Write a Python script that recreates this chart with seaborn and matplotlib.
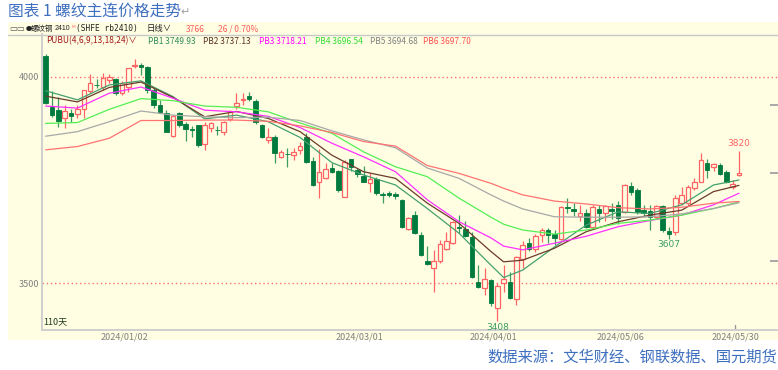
import matplotlib
matplotlib.use("Agg")
import matplotlib.pyplot as plt
import numpy as np
import pandas as pd
import seaborn as sns
from matplotlib.patches import Rectangle
from matplotlib.lines import Line2D

sns.set_style("white")
plt.rcParams["font.family"] = ["Noto Sans CJK SC", "DejaVu Sans"]

# daily candles, rb2410 continuous, 2023/12/13 .. 2024/05/30 (110 bars)
opens = [4050, 3927, 3919, 3899, 3913, 3910, 3921, 3966, 3981, 3974,
         3992, 3994, 3961, 3975, 4026, 4028, 4024, 3969, 3931, 3913,
         3856, 3911, 3886, 3874, 3883, 3837, 3875, 3872, 3867, 3897,
         3928, 3943, 3954, 3940, 3883, 3847, 3855, 3806, 3814, 3810,
         3823, 3853, 3797, 3746, 3756, 3778, 3772, 3710, 3800, 3774,
         3760, 3742, 3752, 3716, 3719, 3716, 3702, 3631, 3665, 3617,
         3553, 3536, 3553, 3583, 3597, 3637, 3631, 3613, 3504, 3488,
         3508, 3440, 3500, 3502, 3461, 3558, 3597, 3582, 3617, 3629,
         3619, 3607, 3685, 3680, 3663, 3671, 3636, 3681, 3671, 3681,
         3690, 3673, 3735, 3726, 3677, 3676, 3660, 3686, 3626, 3625,
         3694, 3694, 3730, 3746, 3790, 3781, 3786, 3769, 3734, 3762]
highs = [4055, 3965, 3952, 3931, 3923, 3931, 3968, 4006, 3994, 4008,
         4006, 3996, 3990, 4022, 4044, 4032, 4026, 3975, 3944, 3920,
         3908, 3914, 3890, 3881, 3883, 3891, 3890, 3880, 3893, 3920,
         3960, 3960, 3963, 3945, 3885, 3875, 3858, 3822, 3827, 3827,
         3843, 3864, 3805, 3824, 3790, 3790, 3775, 3798, 3802, 3780,
         3785, 3768, 3758, 3722, 3724, 3722, 3705, 3660, 3675, 3625,
         3590, 3580, 3605, 3625, 3651, 3665, 3650, 3625, 3544, 3536,
         3510, 3500, 3544, 3528, 3565, 3603, 3610, 3620, 3634, 3634,
         3629, 3686, 3706, 3695, 3690, 3680, 3690, 3690, 3690, 3695,
         3700, 3741, 3746, 3730, 3690, 3690, 3690, 3690, 3636, 3714,
         3733, 3739, 3754, 3815, 3802, 3792, 3790, 3775, 3750, 3820]
lows = [3935, 3902, 3879, 3877, 3891, 3899, 3901, 3960, 3972, 3969,
        3984, 3955, 3955, 3962, 4020, 4004, 3960, 3925, 3912, 3865,
        3854, 3878, 3845, 3854, 3831, 3823, 3865, 3858, 3859, 3894,
        3923, 3932, 3942, 3886, 3851, 3839, 3790, 3803, 3781, 3799,
        3813, 3792, 3736, 3706, 3752, 3766, 3722, 3708, 3771, 3758,
        3744, 3722, 3714, 3694, 3709, 3705, 3635, 3628, 3620, 3565,
        3545, 3480, 3550, 3580, 3594, 3621, 3612, 3513, 3488, 3472,
        3445, 3408, 3480, 3462, 3447, 3538, 3578, 3576, 3599, 3597,
        3592, 3605, 3670, 3662, 3650, 3634, 3634, 3648, 3650, 3655,
        3643, 3670, 3714, 3667, 3660, 3628, 3655, 3625, 3607, 3616,
        3690, 3690, 3725, 3745, 3754, 3773, 3762, 3742, 3728, 3760]
closes = [3937, 3907, 3894, 3918, 3906, 3921, 3968, 3985, 3979, 3996,
          4000, 3960, 3984, 4020, 4028, 4023, 3968, 3931, 3915, 3867,
          3905, 3883, 3873, 3872, 3835, 3883, 3887, 3870, 3891, 3915,
          3937, 3945, 3946, 3891, 3853, 3855, 3816, 3818, 3812, 3818,
          3832, 3794, 3738, 3770, 3776, 3770, 3726, 3794, 3781, 3764,
          3746, 3752, 3718, 3714, 3714, 3711, 3637, 3657, 3622, 3568,
          3547, 3553, 3595, 3603, 3649, 3635, 3615, 3515, 3490, 3510,
          3452, 3493, 3510, 3464, 3563, 3592, 3583, 3615, 3629, 3617,
          3610, 3684, 3683, 3675, 3671, 3637, 3684, 3670, 3687, 3676,
          3657, 3738, 3722, 3673, 3669, 3660, 3686, 3628, 3620, 3706,
          3714, 3734, 3746, 3798, 3774, 3789, 3764, 3746, 3740, 3766]

tick_bars = [13, 50, 71, 91, 109]
tick_labels = ["2024/01/02", "2024/03/01", "2024/04/01", "2024/05/06", "2024/05/30"]

# PUBU waterfall lines at these bars
ma_bars = [0, 5, 10, 15, 20, 25, 30, 35, 40, 45, 50, 55, 60, 65, 70, 72, 75, 80, 85, 90, 95, 100, 105, 109]
pb1 = [3966, 3944, 3980, 3990, 3952, 3898, 3907, 3891, 3853, 3792, 3762, 3738, 3681, 3621, 3544, 3514,
       3532, 3588, 3641, 3673, 3669, 3690, 3738, 3750]
pb2 = [3953, 3939, 3974, 3987, 3950, 3903, 3916, 3899, 3867, 3810, 3770, 3754, 3694, 3645, 3577, 3552,
       3556, 3585, 3625, 3649, 3665, 3677, 3722, 3737]
pb3 = [3929, 3924, 3960, 3975, 3948, 3919, 3915, 3904, 3877, 3839, 3806, 3770, 3702, 3649, 3610, 3590,
       3581, 3597, 3614, 3637, 3652, 3665, 3690, 3718]
pb4 = [3887, 3889, 3921, 3947, 3942, 3929, 3926, 3915, 3888, 3863, 3818, 3782, 3758, 3706, 3660, 3643,
       3629, 3619, 3629, 3645, 3653, 3665, 3681, 3697]
pb5 = [3856, 3867, 3891, 3917, 3907, 3903, 3901, 3902, 3894, 3869, 3847, 3828, 3779, 3754, 3714, 3699,
       3680, 3661, 3660, 3660, 3661, 3668, 3681, 3695]
pb6 = [3823, 3831, 3851, 3894, 3894, 3895, 3895, 3892, 3881, 3865, 3843, 3832, 3785, 3766, 3742, 3730,
       3714, 3699, 3692, 3683, 3680, 3684, 3694, 3698]
pb_names = ["PB1", "PB2", "PB3", "PB4", "PB5", "PB6"]
pb_last = ["3749.93", "3737.13", "3718.21", "3696.54", "3694.68", "3697.70"]

BG = "#fffee3"
RED = "#ff6464"
GREEN = "#007a3d"
WICK_G = "#3c9c62"
BLUE = "#3f6fbf"
pb_colors = {"PB1": "#45a06e", "PB2": "#6b3b2b", "PB3": "#ff30ff",
             "PB4": "#55ee55", "PB5": "#a8a8a8", "PB6": "#ff7272"}
pb_text = {"PB1": "#2e8b57", "PB2": "#5a3020", "PB3": "#ff00ff",
           "PB4": "#33dd33", "PB5": "#808080", "PB6": "#ff5050"}

W, H = 778, 370
fig = plt.figure(figsize=(W / 100, H / 100), dpi=100)
fig.patch.set_facecolor("white")


def fx(x):
    return x / W


def fy(y):
    return 1 - y / H


fig.patches.append(Rectangle((fx(8), fy(340)), (W - 8) / W, 318 / H,
                             transform=fig.transFigure, facecolor=BG, edgecolor="none", zorder=-2))
fig.lines.append(Line2D([fx(8), fx(778)], [fy(34.5), fy(34.5)], transform=fig.transFigure,
                        color="#c8c8c8", lw=1, zorder=-1))

ax = fig.add_axes([fx(42), fy(330), (778 - 42) / W, (330 - 34) / H])
ax.set_facecolor("none")


def price_at(ypix):
    return 4000 - (ypix - 76.7) * 2.42


ax.set_xlim(-0.57, 115.13)
ax.set_ylim(price_at(330), price_at(34))

df = pd.DataFrame({"o": opens, "h": highs, "l": lows, "c": closes})
df["i"] = np.arange(len(df))
up = df["c"] >= df["o"]
df["bottom"] = df[["o", "c"]].min(axis=1)
df["height"] = (df["c"] - df["o"]).abs().clip(lower=1.2)

ax.vlines(df.loc[up, "i"], df.loc[up, "l"], df.loc[up, "h"], color=RED, lw=0.9, zorder=2)
ax.vlines(df.loc[~up, "i"], df.loc[~up, "l"], df.loc[~up, "h"], color=WICK_G, lw=0.9, zorder=2)
ax.bar(df.loc[up, "i"], df.loc[up, "height"], bottom=df.loc[up, "bottom"], width=0.72,
       facecolor=BG, edgecolor=RED, lw=0.9, zorder=3)
ax.bar(df.loc[~up, "i"], df.loc[~up, "height"], bottom=df.loc[~up, "bottom"], width=0.72,
       facecolor=GREEN, edgecolor=GREEN, lw=0.6, zorder=3)

ma = pd.DataFrame({"i": ma_bars, "PB1": pb1, "PB2": pb2, "PB3": pb3,
                   "PB4": pb4, "PB5": pb5, "PB6": pb6})
ma_long = ma.melt(id_vars="i", var_name="line", value_name="v")
sns.lineplot(data=ma_long, x="i", y="v", hue="line", palette=pb_colors, lw=0.9,
             legend=False, ax=ax, zorder=4)

for lvl in (3500, 4000):
    ax.axhline(lvl, color="#ff6f6f", lw=1.0, ls=(0, (1, 2)), zorder=1)

ax.set_yticks([3500, 4000])
ax.set_yticklabels(["3500", "4000"], fontsize=6.5, color="#808080")
ax.tick_params(axis="y", length=0, pad=2)
ax.set_xticks([b - 0.6 for b in tick_bars])
ax.set_xticklabels(tick_labels, fontsize=6.5, color="#808080")
ax.tick_params(axis="x", length=0, pad=2)
ax.set_xlabel("")
ax.set_ylabel("")
for side in ("top", "right"):
    ax.spines[side].set_visible(False)
for side in ("left", "bottom"):
    ax.spines[side].set_color("#cfcfcf")
    ax.spines[side].set_linewidth(1.4)
ax.axvline(tick_bars[-1] - 0.6, ymin=0, ymax=0.018, color="#9a9a9a", lw=1)

right = ax.secondary_yaxis("right")
right.set_yticks([price_at(105), price_at(172.7), price_at(261)])
right.set_yticklabels([])
right.tick_params(direction="in", length=6, width=1.2, color="#9a9a9a")
right.spines["right"].set_visible(False)

# high / low marks
hi = int(df["h"].iloc[-1])
ax.annotate(str(hi), (109, hi), xytext=(0, 2), textcoords="offset points",
            ha="center", va="bottom", fontsize=6.5, color="#ff6464", family="DejaVu Sans")
lo1 = int(df["l"].iloc[71])
ax.annotate(str(lo1), (71, lo1), xytext=(0, -1), textcoords="offset points",
            ha="center", va="top", fontsize=6.5, color="#3c9c62", family="DejaVu Sans")
lo2 = int(df["l"].iloc[98])
ax.annotate(str(lo2), (98, lo2), xytext=(0, -1), textcoords="offset points",
            ha="center", va="top", fontsize=6.5, color="#3c9c62", family="DejaVu Sans")
ax.text(0.002, 0.012, "110天", transform=ax.transAxes, fontsize=6.5, color="#1e3b1e",
        ha="left", va="bottom")

# header rows
hdr = dict(fontsize=6, va="center")
fig.text(fx(9), fy(29), "▭▭", color="#555555", **hdr)
fig.text(fx(25.5), fy(29), "●", color="#202020", fontsize=4.5, va="center")
fig.text(fx(30.5), fy(29), "螺纹钢", color="#202020", fontsize=5.4, va="center")
fig.text(fx(54.5), fy(29), "2410", color="#202020", fontsize=5.0, va="center",
         family="Liberation Sans")
fig.text(fx(71.5), fy(27), "M", color="#ff6464", fontsize=3.2, va="center", family="DejaVu Sans")
fig.text(fx(76), fy(29), "(SHFE rb2410)", color="#202020", fontsize=5.7, va="center",
         family="DejaVu Sans Mono")
fig.text(fx(147), fy(29), "日线∨", color="#202020", **hdr)
fig.text(fx(186), fy(29), f"{closes[-1]}", color="#ff5a5a", **hdr)
fig.text(fx(218), fy(29), "26 / 0.70%", color="#ff5a5a", **hdr)

fig.text(fx(46), fy(41), "PUBU(4,6,9,13,18,24)∨", color="#a01818", **hdr)
pb_x = [148, 203, 259, 315, 370, 423]
for name, val, x in zip(pb_names, pb_last, pb_x):
    fig.text(fx(x), fy(41), f"{name} {val}", color=pb_text[name], **hdr)

fig.text(fx(8), fy(11.5), "图表 1 螺纹主连价格走势", color=BLUE, fontsize=11.3, va="center", ha="left")
fig.text(fx(180), fy(12), "↵", color="#a0a0a0", fontsize=8, va="center", ha="left",
         family=["DejaVu Sans"])
fig.text(fx(777), fy(357), "数据来源：文华财经、钢联数据、国元期货", color=BLUE, fontsize=11,
         va="center", ha="right")

fig.savefig("out.png", dpi=100, facecolor="white")
